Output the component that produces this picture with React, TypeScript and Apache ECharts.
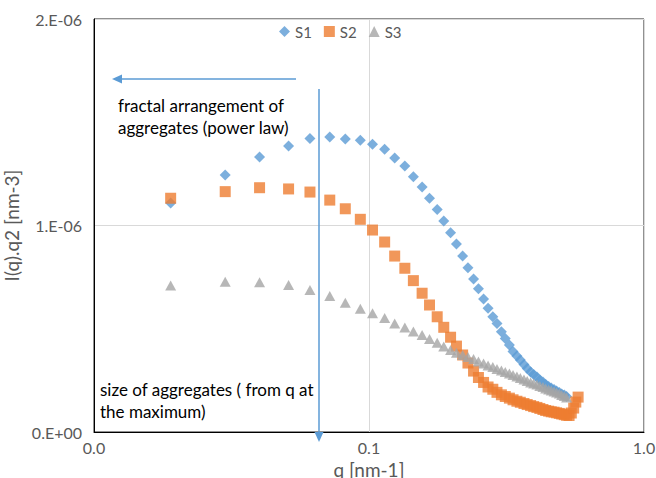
import React, { useEffect, useRef } from "react";
import * as echarts from "echarts";

// q values [nm-1]
const qValues = [
  0.019, 0.030, 0.040, 0.051, 0.061, 0.072, 0.082, 0.093, 0.103, 0.114,
  0.124, 0.135, 0.145, 0.156, 0.166, 0.177, 0.187, 0.198, 0.208, 0.219,
  0.229, 0.240, 0.250, 0.261, 0.271, 0.282, 0.292, 0.303, 0.313, 0.324,
  0.334, 0.345, 0.355, 0.366, 0.376, 0.387, 0.397, 0.408, 0.418, 0.429,
  0.439, 0.450, 0.460, 0.471, 0.481, 0.492, 0.502, 0.513, 0.523, 0.534,
  0.544, 0.555, 0.565, 0.576,
];

// I(q).q2 in units of 1e-6 nm-3
const s1 = [
  1.109, 1.245, 1.332, 1.385, 1.421, 1.429, 1.419, 1.413, 1.393, 1.369,
  1.327, 1.288, 1.236, 1.186, 1.132, 1.078, 1.022, 0.965, 0.910, 0.852,
  0.796, 0.741, 0.694, 0.644, 0.599, 0.558, 0.526, 0.486, 0.453, 0.421,
  0.390, 0.368, 0.349, 0.327, 0.308, 0.291, 0.278, 0.266, 0.252, 0.242,
  0.230, 0.220, 0.213, 0.206, 0.199, 0.191, 0.184, 0.179, 0.172,
];

const s2 = [
  1.132, 1.164, 1.183, 1.177, 1.162, 1.123, 1.081, 1.030, 0.978, 0.920,
  0.852, 0.793, 0.733, 0.672, 0.615, 0.558, 0.507, 0.459, 0.416, 0.373,
  0.334, 0.295, 0.264, 0.240, 0.218, 0.207, 0.192, 0.180, 0.172, 0.164,
  0.156, 0.149, 0.144, 0.138, 0.133, 0.128, 0.123, 0.119, 0.114, 0.109,
  0.104, 0.101, 0.098, 0.096, 0.093, 0.090, 0.087, 0.084, 0.081, 0.080,
  0.092, 0.116, 0.145, 0.169,
];

const s3 = [
  0.709, 0.728, 0.725, 0.712, 0.688, 0.659, 0.626, 0.597, 0.575, 0.552,
  0.526, 0.506, 0.487, 0.470, 0.450, 0.432, 0.414, 0.397, 0.384, 0.373,
  0.363, 0.354, 0.341, 0.332, 0.322, 0.315, 0.305, 0.298, 0.291, 0.283,
  0.276, 0.269, 0.262, 0.254, 0.247, 0.240, 0.235, 0.230, 0.223, 0.218,
  0.211, 0.206, 0.201, 0.196, 0.191, 0.186, 0.179, 0.174, 0.167,
];

const seriesNames = ["S1", "S2", "S3"];
const yTickLabels = ["0.E+00", "1.E-06", "2.E-06"];
const xAxisName = "q [nm-1]";
const yAxisName = "I(q).q2 [nm-3]";
const noteTop = ["fractal arrangement of", "aggregates (power law)"];
const noteBottom = ["size of aggregates ( from q at", "the maximum)"];

const FONT = "Lato, 'Noto Sans', sans-serif";
const BLUE = "#5B9BD5";
const ORANGE = "#ED7D31";
const GRAY = "#A5A5A5";
const LABEL = "#595959";

export default function App() {
  const ref = useRef<HTMLDivElement>(null);

  useEffect(() => {
    if (!ref.current) return;
    const chart = echarts.init(ref.current, null, { renderer: "svg" });

    const toPts = (arr: number[]) => arr.map((v, i) => [qValues[i], v]);
    const noteStyle = (text: string) => ({
      text,
      fill: "#000",
      font: `17px ${FONT}`,
      textVerticalAlign: "middle",
    });

    const option: any = {
      animation: false,
      backgroundColor: "#fff",
      textStyle: { fontFamily: FONT },
      grid: {
        left: 94,
        right: 12,
        top: 19,
        bottom: 46,
        containLabel: false,
        outerBoundsMode: "none",
        show: true,
        borderColor: "#222",
        borderWidth: 1,
        backgroundColor: "transparent",
      },
      legend: {
        left: 279,
        top: 24,
        padding: 0,
        itemWidth: 11,
        itemHeight: 11,
        itemGap: 12,
        textStyle: { fontSize: 15, color: LABEL, fontFamily: FONT },
        data: [
          { name: seriesNames[0], icon: "diamond" },
          { name: seriesNames[1], icon: "rect" },
          { name: seriesNames[2], icon: "triangle" },
        ],
      },
      xAxis: {
        type: "log",
        logBase: 10,
        min: 0.01,
        max: 1,
        name: xAxisName,
        nameLocation: "middle",
        nameGap: 22,
        nameTextStyle: { fontSize: 19, color: LABEL, fontFamily: FONT },
        axisLine: { show: true, lineStyle: { color: "#000", width: 1 } },
        axisTick: { show: false },
        axisLabel: {
          fontSize: 16,
          color: LABEL,
          fontFamily: FONT,
          margin: 7,
          formatter: (v: number) => v.toFixed(1),
        },
        splitLine: { show: true, lineStyle: { color: "#D9D9D9", width: 1 } },
      },
      yAxis: {
        type: "value",
        min: 0,
        max: 2,
        interval: 1,
        name: yAxisName,
        nameLocation: "middle",
        nameRotate: 90,
        nameGap: 60,
        nameTextStyle: { fontSize: 19, color: LABEL, fontFamily: FONT },
        axisLine: { show: true, lineStyle: { color: "#000", width: 1 } },
        axisTick: { show: false },
        axisLabel: {
          fontSize: 16,
          color: LABEL,
          fontFamily: FONT,
          margin: 12,
          formatter: (_v: number, idx: number) => yTickLabels[idx],
        },
        splitLine: { show: true, lineStyle: { color: "#D9D9D9", width: 1 } },
      },
      series: [
        {
          name: seriesNames[0],
          type: "scatter",
          symbol: "diamond",
          symbolSize: [11, 11],
          itemStyle: { color: BLUE },
          data: toPts(s1),
        },
        {
          name: seriesNames[1],
          type: "scatter",
          symbol: "rect",
          symbolSize: [11, 11],
          itemStyle: { color: ORANGE },
          data: toPts(s2),
        },
        {
          name: seriesNames[2],
          type: "scatter",
          symbol: "triangle",
          symbolSize: [11, 10],
          itemStyle: { color: GRAY },
          data: toPts(s3),
        },
      ],
      graphic: [
        {
          type: "line",
          shape: { x1: 296, y1: 79, x2: 120, y2: 79 },
          style: { stroke: BLUE, lineWidth: 1.5 },
          z: 10,
        },
        {
          type: "polygon",
          shape: { points: [[112, 79], [122, 74.5], [122, 83.5]] },
          style: { fill: BLUE },
          z: 10,
        },
        {
          type: "line",
          shape: { x1: 319, y1: 89, x2: 319, y2: 434 },
          style: { stroke: BLUE, lineWidth: 1.5 },
          z: 10,
        },
        {
          type: "polygon",
          shape: { points: [[319, 442], [314.5, 432], [323.5, 432]] },
          style: { fill: BLUE },
          z: 10,
        },
        { type: "text", x: 118, y: 105, style: noteStyle(noteTop[0]), z: 10 },
        { type: "text", x: 118, y: 127, style: noteStyle(noteTop[1]), z: 10 },
        { type: "text", x: 100, y: 389, style: noteStyle(noteBottom[0]), z: 10 },
        { type: "text", x: 100, y: 411, style: noteStyle(noteBottom[1]), z: 10 },
      ],
    };

    chart.setOption(option);
    return () => chart.dispose();
  }, []);

  return (
    <div
      ref={ref}
      style={{ position: "absolute", left: 0, top: 0, width: 656, height: 478 }}
    />
  );
}
